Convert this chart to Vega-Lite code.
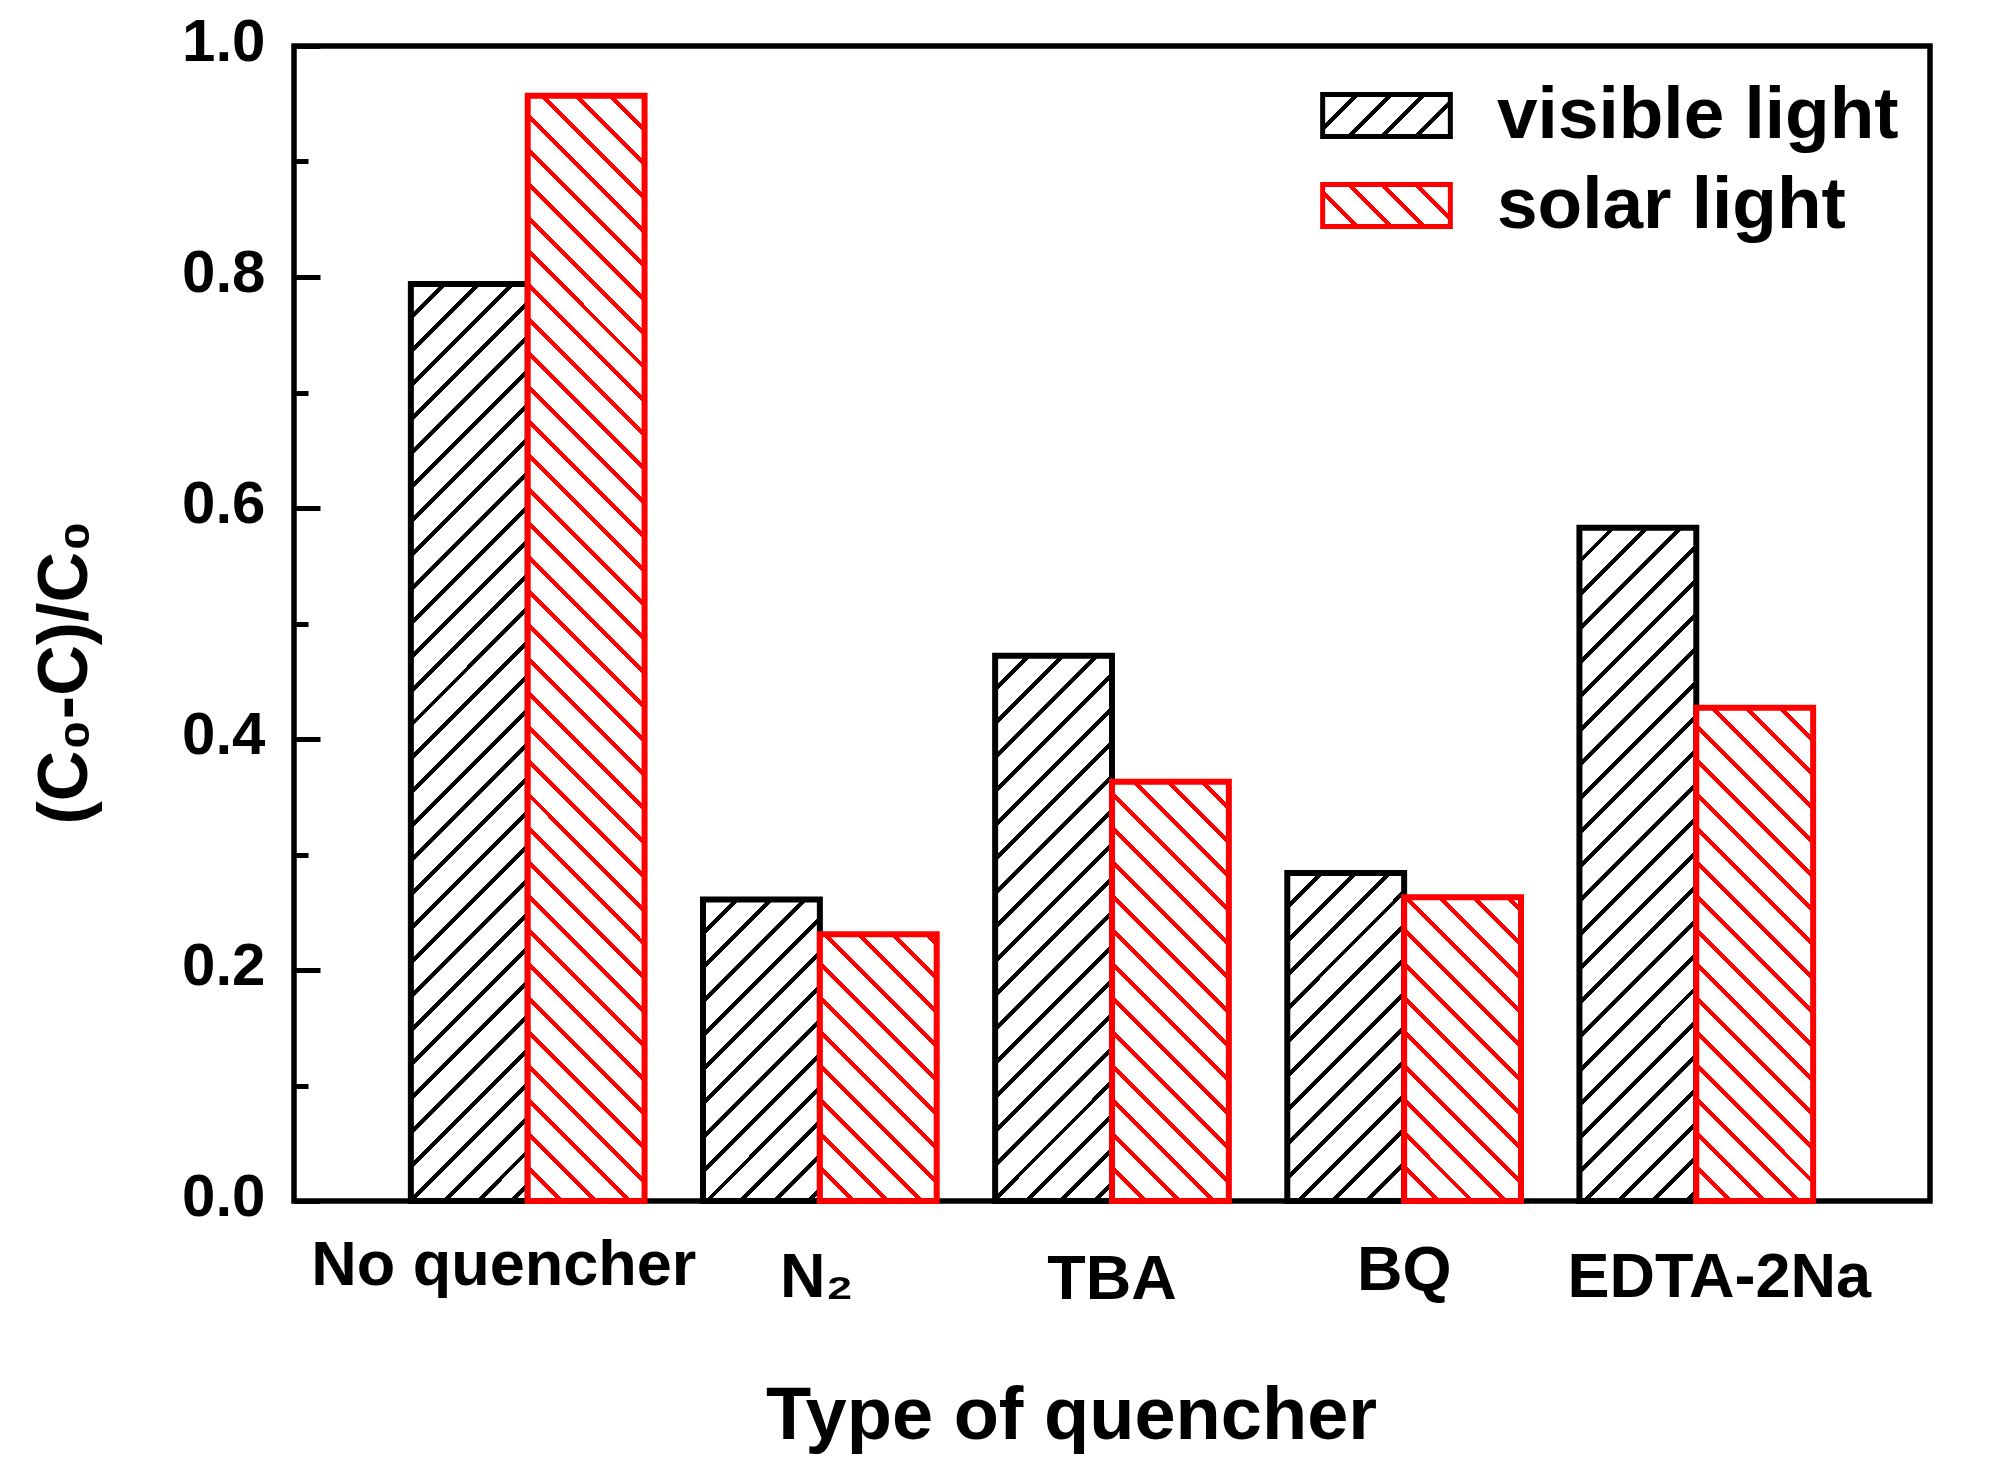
{
  "$schema": "https://vega.github.io/schema/vega-lite/v6.json",
  "width": 1636,
  "height": 1155,
  "autosize": "none",
  "padding": {"left": 294, "top": 46, "right": 67, "bottom": 276},
  "background": "white",
  "config": {
    "font": "Liberation Sans",
    "view": {"stroke": "black", "strokeWidth": 5.5},
    "axis": {"grid": false, "domain": false, "labelColor": "black", "titleColor": "black", "labelFontWeight": "bold", "titleFontWeight": "bold"}
  },
  "params": [
    {"name": "hatchK", "value": [
      {"offset":0.0228,"color":"#fff"},{"offset":0.0228,"color":"#000"},{"offset":0.0272,"color":"#000"},{"offset":0.0272,"color":"#fff"},
      {"offset":0.0478,"color":"#fff"},{"offset":0.0478,"color":"#000"},{"offset":0.0522,"color":"#000"},{"offset":0.0522,"color":"#fff"},
      {"offset":0.0728,"color":"#fff"},{"offset":0.0728,"color":"#000"},{"offset":0.0772,"color":"#000"},{"offset":0.0772,"color":"#fff"},
      {"offset":0.0978,"color":"#fff"},{"offset":0.0978,"color":"#000"},{"offset":0.1022,"color":"#000"},{"offset":0.1022,"color":"#fff"},
      {"offset":0.1228,"color":"#fff"},{"offset":0.1228,"color":"#000"},{"offset":0.1272,"color":"#000"},{"offset":0.1272,"color":"#fff"},
      {"offset":0.1478,"color":"#fff"},{"offset":0.1478,"color":"#000"},{"offset":0.1522,"color":"#000"},{"offset":0.1522,"color":"#fff"},
      {"offset":0.1728,"color":"#fff"},{"offset":0.1728,"color":"#000"},{"offset":0.1772,"color":"#000"},{"offset":0.1772,"color":"#fff"},
      {"offset":0.1978,"color":"#fff"},{"offset":0.1978,"color":"#000"},{"offset":0.2022,"color":"#000"},{"offset":0.2022,"color":"#fff"},
      {"offset":0.2228,"color":"#fff"},{"offset":0.2228,"color":"#000"},{"offset":0.2272,"color":"#000"},{"offset":0.2272,"color":"#fff"},
      {"offset":0.2478,"color":"#fff"},{"offset":0.2478,"color":"#000"},{"offset":0.2522,"color":"#000"},{"offset":0.2522,"color":"#fff"},
      {"offset":0.2728,"color":"#fff"},{"offset":0.2728,"color":"#000"},{"offset":0.2772,"color":"#000"},{"offset":0.2772,"color":"#fff"},
      {"offset":0.2978,"color":"#fff"},{"offset":0.2978,"color":"#000"},{"offset":0.3022,"color":"#000"},{"offset":0.3022,"color":"#fff"},
      {"offset":0.3228,"color":"#fff"},{"offset":0.3228,"color":"#000"},{"offset":0.3272,"color":"#000"},{"offset":0.3272,"color":"#fff"},
      {"offset":0.3478,"color":"#fff"},{"offset":0.3478,"color":"#000"},{"offset":0.3522,"color":"#000"},{"offset":0.3522,"color":"#fff"},
      {"offset":0.3728,"color":"#fff"},{"offset":0.3728,"color":"#000"},{"offset":0.3772,"color":"#000"},{"offset":0.3772,"color":"#fff"},
      {"offset":0.3978,"color":"#fff"},{"offset":0.3978,"color":"#000"},{"offset":0.4022,"color":"#000"},{"offset":0.4022,"color":"#fff"},
      {"offset":0.4228,"color":"#fff"},{"offset":0.4228,"color":"#000"},{"offset":0.4272,"color":"#000"},{"offset":0.4272,"color":"#fff"},
      {"offset":0.4478,"color":"#fff"},{"offset":0.4478,"color":"#000"},{"offset":0.4522,"color":"#000"},{"offset":0.4522,"color":"#fff"},
      {"offset":0.4728,"color":"#fff"},{"offset":0.4728,"color":"#000"},{"offset":0.4772,"color":"#000"},{"offset":0.4772,"color":"#fff"},
      {"offset":0.4978,"color":"#fff"},{"offset":0.4978,"color":"#000"},{"offset":0.5022,"color":"#000"},{"offset":0.5022,"color":"#fff"},
      {"offset":0.5228,"color":"#fff"},{"offset":0.5228,"color":"#000"},{"offset":0.5272,"color":"#000"},{"offset":0.5272,"color":"#fff"},
      {"offset":0.5478,"color":"#fff"},{"offset":0.5478,"color":"#000"},{"offset":0.5522,"color":"#000"},{"offset":0.5522,"color":"#fff"},
      {"offset":0.5728,"color":"#fff"},{"offset":0.5728,"color":"#000"},{"offset":0.5772,"color":"#000"},{"offset":0.5772,"color":"#fff"},
      {"offset":0.5978,"color":"#fff"},{"offset":0.5978,"color":"#000"},{"offset":0.6022,"color":"#000"},{"offset":0.6022,"color":"#fff"},
      {"offset":0.6228,"color":"#fff"},{"offset":0.6228,"color":"#000"},{"offset":0.6272,"color":"#000"},{"offset":0.6272,"color":"#fff"},
      {"offset":0.6478,"color":"#fff"},{"offset":0.6478,"color":"#000"},{"offset":0.6522,"color":"#000"},{"offset":0.6522,"color":"#fff"},
      {"offset":0.6728,"color":"#fff"},{"offset":0.6728,"color":"#000"},{"offset":0.6772,"color":"#000"},{"offset":0.6772,"color":"#fff"},
      {"offset":0.6978,"color":"#fff"},{"offset":0.6978,"color":"#000"},{"offset":0.7022,"color":"#000"},{"offset":0.7022,"color":"#fff"},
      {"offset":0.7228,"color":"#fff"},{"offset":0.7228,"color":"#000"},{"offset":0.7272,"color":"#000"},{"offset":0.7272,"color":"#fff"},
      {"offset":0.7478,"color":"#fff"},{"offset":0.7478,"color":"#000"},{"offset":0.7522,"color":"#000"},{"offset":0.7522,"color":"#fff"},
      {"offset":0.7728,"color":"#fff"},{"offset":0.7728,"color":"#000"},{"offset":0.7772,"color":"#000"},{"offset":0.7772,"color":"#fff"},
      {"offset":0.7978,"color":"#fff"},{"offset":0.7978,"color":"#000"},{"offset":0.8022,"color":"#000"},{"offset":0.8022,"color":"#fff"},
      {"offset":0.8228,"color":"#fff"},{"offset":0.8228,"color":"#000"},{"offset":0.8272,"color":"#000"},{"offset":0.8272,"color":"#fff"},
      {"offset":0.8478,"color":"#fff"},{"offset":0.8478,"color":"#000"},{"offset":0.8522,"color":"#000"},{"offset":0.8522,"color":"#fff"},
      {"offset":0.8728,"color":"#fff"},{"offset":0.8728,"color":"#000"},{"offset":0.8772,"color":"#000"},{"offset":0.8772,"color":"#fff"},
      {"offset":0.8978,"color":"#fff"},{"offset":0.8978,"color":"#000"},{"offset":0.9022,"color":"#000"},{"offset":0.9022,"color":"#fff"},
      {"offset":0.9228,"color":"#fff"},{"offset":0.9228,"color":"#000"},{"offset":0.9272,"color":"#000"},{"offset":0.9272,"color":"#fff"},
      {"offset":0.9478,"color":"#fff"},{"offset":0.9478,"color":"#000"},{"offset":0.9522,"color":"#000"},{"offset":0.9522,"color":"#fff"},
      {"offset":0.9728,"color":"#fff"},{"offset":0.9728,"color":"#000"},{"offset":0.9772,"color":"#000"},{"offset":0.9772,"color":"#fff"}
    ]},
    {"name": "hatchR", "value": [
      {"offset":0.0228,"color":"#fff"},{"offset":0.0228,"color":"#f00"},{"offset":0.0272,"color":"#f00"},{"offset":0.0272,"color":"#fff"},
      {"offset":0.0478,"color":"#fff"},{"offset":0.0478,"color":"#f00"},{"offset":0.0522,"color":"#f00"},{"offset":0.0522,"color":"#fff"},
      {"offset":0.0728,"color":"#fff"},{"offset":0.0728,"color":"#f00"},{"offset":0.0772,"color":"#f00"},{"offset":0.0772,"color":"#fff"},
      {"offset":0.0978,"color":"#fff"},{"offset":0.0978,"color":"#f00"},{"offset":0.1022,"color":"#f00"},{"offset":0.1022,"color":"#fff"},
      {"offset":0.1228,"color":"#fff"},{"offset":0.1228,"color":"#f00"},{"offset":0.1272,"color":"#f00"},{"offset":0.1272,"color":"#fff"},
      {"offset":0.1478,"color":"#fff"},{"offset":0.1478,"color":"#f00"},{"offset":0.1522,"color":"#f00"},{"offset":0.1522,"color":"#fff"},
      {"offset":0.1728,"color":"#fff"},{"offset":0.1728,"color":"#f00"},{"offset":0.1772,"color":"#f00"},{"offset":0.1772,"color":"#fff"},
      {"offset":0.1978,"color":"#fff"},{"offset":0.1978,"color":"#f00"},{"offset":0.2022,"color":"#f00"},{"offset":0.2022,"color":"#fff"},
      {"offset":0.2228,"color":"#fff"},{"offset":0.2228,"color":"#f00"},{"offset":0.2272,"color":"#f00"},{"offset":0.2272,"color":"#fff"},
      {"offset":0.2478,"color":"#fff"},{"offset":0.2478,"color":"#f00"},{"offset":0.2522,"color":"#f00"},{"offset":0.2522,"color":"#fff"},
      {"offset":0.2728,"color":"#fff"},{"offset":0.2728,"color":"#f00"},{"offset":0.2772,"color":"#f00"},{"offset":0.2772,"color":"#fff"},
      {"offset":0.2978,"color":"#fff"},{"offset":0.2978,"color":"#f00"},{"offset":0.3022,"color":"#f00"},{"offset":0.3022,"color":"#fff"},
      {"offset":0.3228,"color":"#fff"},{"offset":0.3228,"color":"#f00"},{"offset":0.3272,"color":"#f00"},{"offset":0.3272,"color":"#fff"},
      {"offset":0.3478,"color":"#fff"},{"offset":0.3478,"color":"#f00"},{"offset":0.3522,"color":"#f00"},{"offset":0.3522,"color":"#fff"},
      {"offset":0.3728,"color":"#fff"},{"offset":0.3728,"color":"#f00"},{"offset":0.3772,"color":"#f00"},{"offset":0.3772,"color":"#fff"},
      {"offset":0.3978,"color":"#fff"},{"offset":0.3978,"color":"#f00"},{"offset":0.4022,"color":"#f00"},{"offset":0.4022,"color":"#fff"},
      {"offset":0.4228,"color":"#fff"},{"offset":0.4228,"color":"#f00"},{"offset":0.4272,"color":"#f00"},{"offset":0.4272,"color":"#fff"},
      {"offset":0.4478,"color":"#fff"},{"offset":0.4478,"color":"#f00"},{"offset":0.4522,"color":"#f00"},{"offset":0.4522,"color":"#fff"},
      {"offset":0.4728,"color":"#fff"},{"offset":0.4728,"color":"#f00"},{"offset":0.4772,"color":"#f00"},{"offset":0.4772,"color":"#fff"},
      {"offset":0.4978,"color":"#fff"},{"offset":0.4978,"color":"#f00"},{"offset":0.5022,"color":"#f00"},{"offset":0.5022,"color":"#fff"},
      {"offset":0.5228,"color":"#fff"},{"offset":0.5228,"color":"#f00"},{"offset":0.5272,"color":"#f00"},{"offset":0.5272,"color":"#fff"},
      {"offset":0.5478,"color":"#fff"},{"offset":0.5478,"color":"#f00"},{"offset":0.5522,"color":"#f00"},{"offset":0.5522,"color":"#fff"},
      {"offset":0.5728,"color":"#fff"},{"offset":0.5728,"color":"#f00"},{"offset":0.5772,"color":"#f00"},{"offset":0.5772,"color":"#fff"},
      {"offset":0.5978,"color":"#fff"},{"offset":0.5978,"color":"#f00"},{"offset":0.6022,"color":"#f00"},{"offset":0.6022,"color":"#fff"},
      {"offset":0.6228,"color":"#fff"},{"offset":0.6228,"color":"#f00"},{"offset":0.6272,"color":"#f00"},{"offset":0.6272,"color":"#fff"},
      {"offset":0.6478,"color":"#fff"},{"offset":0.6478,"color":"#f00"},{"offset":0.6522,"color":"#f00"},{"offset":0.6522,"color":"#fff"},
      {"offset":0.6728,"color":"#fff"},{"offset":0.6728,"color":"#f00"},{"offset":0.6772,"color":"#f00"},{"offset":0.6772,"color":"#fff"},
      {"offset":0.6978,"color":"#fff"},{"offset":0.6978,"color":"#f00"},{"offset":0.7022,"color":"#f00"},{"offset":0.7022,"color":"#fff"},
      {"offset":0.7228,"color":"#fff"},{"offset":0.7228,"color":"#f00"},{"offset":0.7272,"color":"#f00"},{"offset":0.7272,"color":"#fff"},
      {"offset":0.7478,"color":"#fff"},{"offset":0.7478,"color":"#f00"},{"offset":0.7522,"color":"#f00"},{"offset":0.7522,"color":"#fff"},
      {"offset":0.7728,"color":"#fff"},{"offset":0.7728,"color":"#f00"},{"offset":0.7772,"color":"#f00"},{"offset":0.7772,"color":"#fff"},
      {"offset":0.7978,"color":"#fff"},{"offset":0.7978,"color":"#f00"},{"offset":0.8022,"color":"#f00"},{"offset":0.8022,"color":"#fff"},
      {"offset":0.8228,"color":"#fff"},{"offset":0.8228,"color":"#f00"},{"offset":0.8272,"color":"#f00"},{"offset":0.8272,"color":"#fff"},
      {"offset":0.8478,"color":"#fff"},{"offset":0.8478,"color":"#f00"},{"offset":0.8522,"color":"#f00"},{"offset":0.8522,"color":"#fff"},
      {"offset":0.8728,"color":"#fff"},{"offset":0.8728,"color":"#f00"},{"offset":0.8772,"color":"#f00"},{"offset":0.8772,"color":"#fff"},
      {"offset":0.8978,"color":"#fff"},{"offset":0.8978,"color":"#f00"},{"offset":0.9022,"color":"#f00"},{"offset":0.9022,"color":"#fff"},
      {"offset":0.9228,"color":"#fff"},{"offset":0.9228,"color":"#f00"},{"offset":0.9272,"color":"#f00"},{"offset":0.9272,"color":"#fff"},
      {"offset":0.9478,"color":"#fff"},{"offset":0.9478,"color":"#f00"},{"offset":0.9522,"color":"#f00"},{"offset":0.9522,"color":"#fff"},
      {"offset":0.9728,"color":"#fff"},{"offset":0.9728,"color":"#f00"},{"offset":0.9772,"color":"#f00"},{"offset":0.9772,"color":"#fff"}
    ]}
  ],
  "data": {
    "values": [
      {"quencher": "No quencher", "light": "visible light", "ratio": 0.794},
      {"quencher": "No quencher", "light": "solar light", "ratio": 0.957},
      {"quencher": "N₂", "light": "visible light", "ratio": 0.261},
      {"quencher": "N₂", "light": "solar light", "ratio": 0.231},
      {"quencher": "TBA", "light": "visible light", "ratio": 0.472},
      {"quencher": "TBA", "light": "solar light", "ratio": 0.363},
      {"quencher": "BQ", "light": "visible light", "ratio": 0.284},
      {"quencher": "BQ", "light": "solar light", "ratio": 0.263},
      {"quencher": "EDTA-2Na", "light": "visible light", "ratio": 0.583},
      {"quencher": "EDTA-2Na", "light": "solar light", "ratio": 0.427}
    ]
  },
  "mark": {
    "type": "bar",
    "strokeWidth": 6,
    "fill": {"expr": "(datum.light || datum.value) === 'visible light' ? {gradient: 'linear', x1: 0, y1: 0, x2: isValid(datum.ratio) ? 158703/(13666 + pow(1155*datum.ratio, 2)) : 9.594, y2: isValid(datum.ratio) ? 1568028*datum.ratio/(13666 + pow(1155*datum.ratio, 2)) : 3.155, stops: hatchK} : {gradient: 'linear', x1: 0, y1: 1, x2: isValid(datum.ratio) ? 158703/(13666 + pow(1155*datum.ratio, 2)) : 9.594, y2: isValid(datum.ratio) ? 1 - 1568028*datum.ratio/(13666 + pow(1155*datum.ratio, 2)) : -2.155, stops: hatchR}"}
  },
  "encoding": {
    "x": {
      "field": "quencher",
      "type": "nominal",
      "sort": ["No quencher", "N₂", "TBA", "BQ", "EDTA-2Na"],
      "scale": {"paddingInner": 0.2, "paddingOuter": 0.4},
      "axis": {
        "ticks": false,
        "labelAngle": 0,
        "labelPadding": {"condition": [{"test": "datum.value === 'No quencher'", "value": 33}, {"test": "datum.value === 'BQ'", "value": 38}, {"test": "datum.value === 'TBA'", "value": 47}], "value": 45},
        "labelOffset": {"condition": [{"test": "datum.value === 'No quencher'", "value": -24}, {"test": "datum.value === 'EDTA-2Na'", "value": 23}, {"test": "datum.value === 'N₂'", "value": -3}], "value": 0},
        "labelFontSize": 63,
        "labelLimit": 0,
        "title": "Type of quencher",
        "titleFontSize": 74,
        "titleX": 777,
        "titleY": 237,
        "titleBaseline": "alphabetic",
        "titleAlign": "center"
      }
    },
    "xOffset": {
      "field": "light",
      "type": "nominal",
      "sort": ["visible light", "solar light"],
      "scale": {"paddingInner": 0, "paddingOuter": 0}
    },
    "y": {
      "field": "ratio",
      "type": "quantitative",
      "scale": {"domain": [0, 1], "nice": false},
      "axis": {
        "values": [0, 0.1, 0.2, 0.3, 0.4, 0.5, 0.6, 0.7, 0.8, 0.9, 1.0],
        "labelExpr": "round(datum.value*10) % 2 === 0 ? format(datum.value, '.1f') : ''",
        "tickSize": {"condition": {"test": "round(datum.value*10) % 2 === 1", "value": -14}, "value": -26},
        "tickWidth": 5,
        "tickColor": "black",
        "labelFontSize": 60,
        "labelPadding": 55,
        "labelOffset": -4,
        "labelOverlap": false,
        "labelBound": false,
        "labelFlush": false,
        "title": "(C₀-C)/C₀",
        "titleFontSize": 70,
        "titleX": -208,
        "titleY": 626,
        "titleAngle": 270,
        "titleBaseline": "alphabetic",
        "titleAlign": "center"
      }
    },
    "stroke": {
      "field": "light",
      "type": "nominal",
      "scale": {"domain": ["visible light", "solar light"], "range": ["#000000", "#ff0000"]},
      "legend": {
        "title": null,
        "orient": "none",
        "legendX": 1056,
        "legendY": 33,
        "padding": 0,
        "symbolType": "M-2.66,-0.875H2.66V0.875H-2.66Z",
        "symbolSize": 2304,
        "symbolStrokeWidth": 5,
        "labelFontSize": 73,
        "labelFontWeight": "bold",
        "labelColor": "black",
        "labelOffset": 74,
        "labelLimit": 0,
        "rowPadding": 16,
        "encode": {
          "symbols": {
            "update": {
              "fill": {"signal": "datum.value === 'visible light' ? {gradient: 'linear', x1: 0, y1: 0, x2: 9.594, y2: 3.155, stops: hatchK} : {gradient: 'linear', x1: 0, y1: 1, x2: 9.594, y2: -2.155, stops: hatchR}"},
              "opacity": {"value": 1}
            }
          }
        }
      }
    }
  }
}
